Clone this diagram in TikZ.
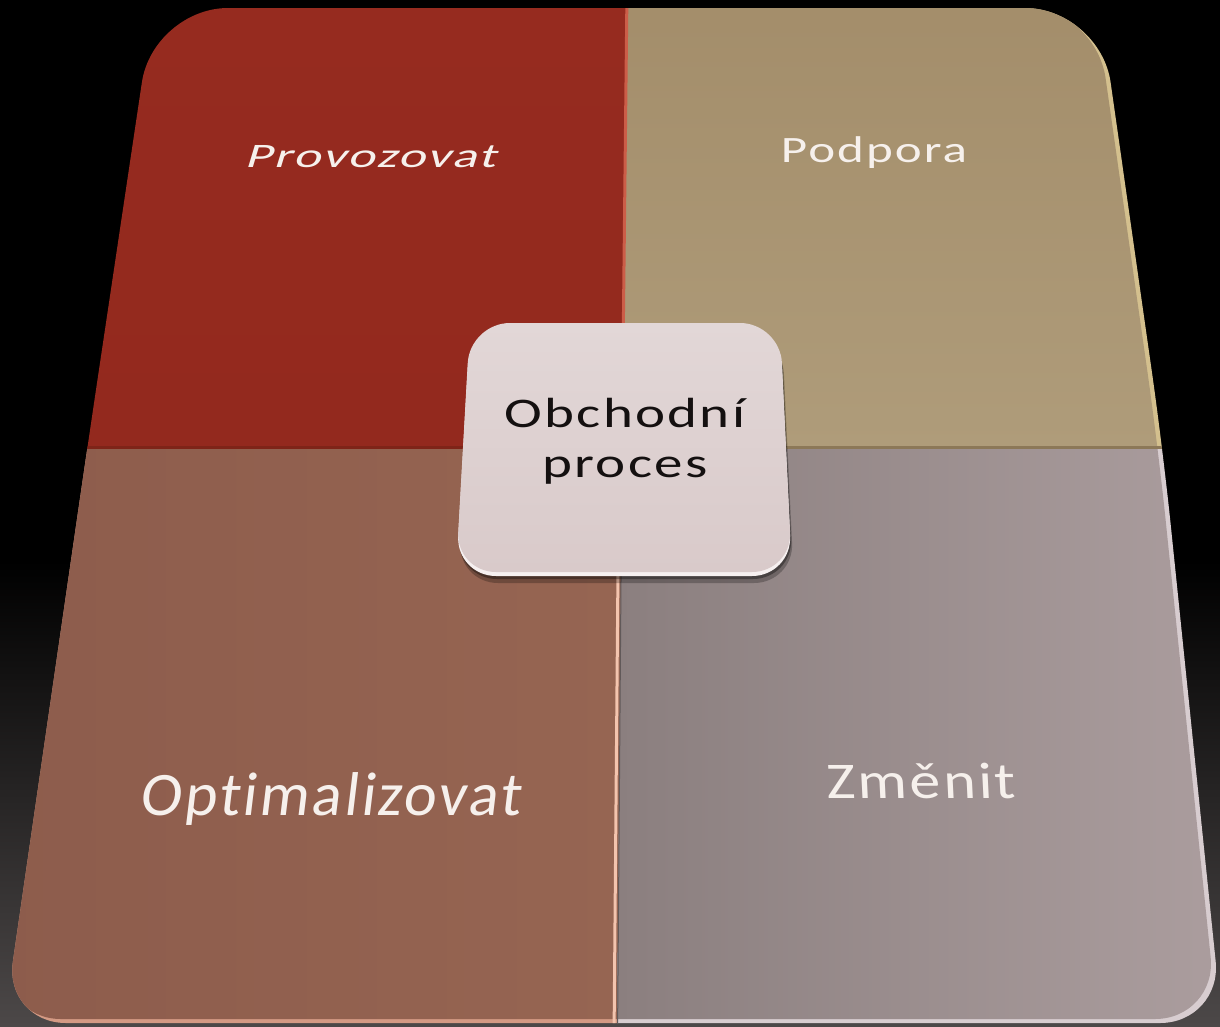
\documentclass[tikz,border=0pt]{standalone}
\usepackage{fontspec}
\setmainfont{Carlito}[Ligatures=NoCommon]
\newfontfamily\spacedfont{Carlito}[LetterSpace=4,Ligatures=NoCommon]
\definecolor{bgbot}{HTML}{4C4848}
\definecolor{qTL}{HTML}{962B1F}
\definecolor{qTLd}{HTML}{93291E}
\definecolor{qTRa}{HTML}{A38D6A}
\definecolor{qTRb}{HTML}{AF9C7A}
\definecolor{qBLa}{HTML}{8D5C4C}
\definecolor{qBLb}{HTML}{966552}
\definecolor{qBRa}{HTML}{8B7F7F}
\definecolor{qBRb}{HTML}{AC9E9F}
\definecolor{rimTR}{HTML}{D4C08E}
\definecolor{rimBL}{HTML}{D49A84}
\definecolor{rimBR}{HTML}{D8CDD0}
\definecolor{divTop}{HTML}{CC5D48}
\definecolor{divBot}{HTML}{F3C4AE}
\definecolor{lineTL}{HTML}{7E2418}
\definecolor{lineTR}{HTML}{8C7858}
\definecolor{faceT}{HTML}{E2D7D7}
\definecolor{faceB}{HTML}{D9CACA}
\definecolor{faceRim}{HTML}{F6F0F0}
\definecolor{labelc}{HTML}{F6F0EC}
\definecolor{ctextc}{HTML}{141010}
\newcommand\quadoutline{(400,8) [rounded corners=75pt] -- (1100,8) -- (1163,450) [rounded corners=62pt] -- (1222,1023) -- (4,1023) [rounded corners=75pt] -- (87,450) -- (153,8) -- cycle}
\newcommand\cboxpath{(620,323) [rounded corners=40pt] -- (780,323) -- (792,572) -- (456,572) -- (470,323) -- cycle}
\tikzset{
  lbl/.style={text=labelc, inner sep=0pt, anchor=base},
  ctext/.style={text=ctextc, inner sep=0pt, anchor=base, font=\spacedfont\fontsize{57}{64}\selectfont, yscale=0.74}
}
\begin{document}
\begin{tikzpicture}[x=1pt,y=-1pt]
\useasboundingbox (0,0) rectangle (1220,1026);
% background
\fill[black] (0,0) rectangle (1220,1026);
\shade[top color=black,bottom color=bgbot] (0,560) rectangle (1220,1026);
% quadrants
\begin{scope}
  \clip \quadoutline;
  % rim layer (right and bottom edges)
  \fill[rimTR] (627,-10) -- (1240,-10) -- (1240,449) -- (622,449) -- cycle;
  \fill[rimBL] (-10,449) -- (622,449) -- (617,1040) -- (-10,1040) -- cycle;
  \fill[rimBR] (622,449) -- (1240,449) -- (1240,1040) -- (617,1040) -- cycle;
  \begin{scope}
    \clip[shift={(-5,-4)}] \quadoutline;
    \shade[top color=qTL,bottom color=qTLd] (-10,-10) -- (627,-10) -- (622,449) -- (-10,449) -- cycle;
    \shade[top color=qTRa,bottom color=qTRb] (627,-10) -- (1240,-10) -- (1240,449) -- (622,449) -- cycle;
    \shade[left color=qBLa,right color=qBLb] (-10,449) -- (622,449) -- (617,1040) -- (-10,1040) -- cycle;
    \shade[left color=qBRa,right color=qBRb] (622,449) -- (1240,449) -- (1240,1040) -- (617,1040) -- cycle;
  \end{scope}
  % divider lines
  \draw[lineTL,line width=3pt] (-10,447) -- (622,447);
  \draw[lineTR,line width=2.5pt] (622,447.5) -- (1240,447.5);
  \draw[divTop,line width=3pt] (627,-10) -- (622,449);
  \draw[divBot,line width=3pt] (619,449) -- (614,1040);
  \draw[qBRa!70!black,line width=1pt] (622,449) -- (617.5,1040);
\end{scope}
% centre box
\fill[black,opacity=.25] [shift={(2,11)}] \cboxpath;
\fill[black,opacity=.35] [shift={(1,7)}] \cboxpath;
\fill[faceRim] [shift={(0,4)}] \cboxpath;
\shade[top color=faceT,bottom color=faceB] \cboxpath;
% labels
\node[lbl, font=\spacedfont\fontsize{52}{60}\selectfont, yscale=0.66, xslant=0.2] (prov) at (370,167) {Provozovat};
\node[lbl, font=\spacedfont\fontsize{51}{60}\selectfont, yscale=0.73] (podp) at (874,162) {Podpora};
\node[lbl, font=\spacedfont\fontsize{62.5}{70}\selectfont, yscale=0.99, xslant=0.12] (opti) at (330,815) {Optimalizovat};
\node[lbl, font=\spacedfont\fontsize{62}{70}\selectfont, yscale=0.83, xslant=-0.04] (zmen) at (922,798) {Změnit};
\node[ctext] (obch) at (625,427) {Obchodní};
\node[ctext] (proc) at (625,477) {proces};
\end{tikzpicture}
\end{document}
